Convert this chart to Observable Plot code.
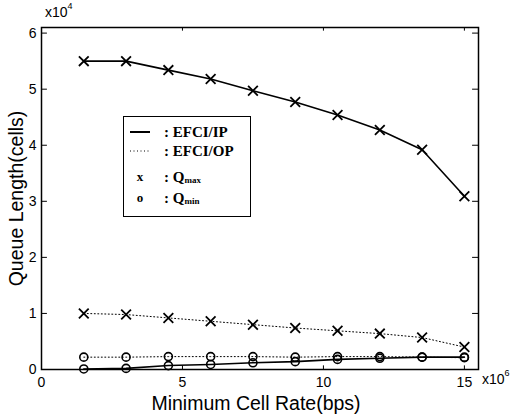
<!DOCTYPE html>
<html>
<head>
<meta charset="utf-8">
<script src="https://cdn.jsdelivr.net/npm/d3@7"></script>
<script src="https://cdn.jsdelivr.net/npm/@observablehq/plot@0.6"></script>
<style>
  body { margin: 0; background: #fff; }
  #wrap { position: relative; width: 510px; height: 417px; font-family: "Liberation Sans", Arial, sans-serif; }
  .exp { position: absolute; font-size: 14px; color: #000; }
  .exp sup { font-size: 9px; position: relative; top: -2px; }
  #legend { position: absolute; left: 123px; top: 116px; width: 126px; height: 99px; border: 1.5px solid #000; background: #fff;
            font-family: "Liberation Serif", "Times New Roman", serif; font-weight: bold; font-size: 15px; }
  .row { position: absolute; left: 0; height: 18px; width: 126px; }
  .row .sym { position: absolute; left: 6px; width: 22px; top: 0; height: 18px; }
  .row .lab { position: absolute; left: 40px; top: 0; line-height: 18px; }
  .row .lab sub { font-size: 9px; vertical-align: -1px; }
</style>
</head>
<body>
<div id="wrap"></div>
<script>
// Minimum cell rate (bps)
const mcr = [1.5e6, 3e6, 4.5e6, 6e6, 7.5e6, 9e6, 10.5e6, 12e6, 13.5e6, 15e6];
// Queue length (cells)
const ipMax = [55000, 55000, 53400, 51800, 49700, 47700, 45400, 42700, 39200, 30900];
const opMax = [10000, 9800, 9200, 8600, 8000, 7400, 6900, 6400, 5700, 4000];
const ipMin = [100, 200, 700, 900, 1200, 1400, 1800, 2000, 2200, 2200];
const opMin = [2200, 2200, 2300, 2300, 2300, 2200, 2300, 2300, 2200, 2100];
const xTicks = [0, 5e6, 10e6, 15e6];
const xTickLabels = ["0", "5", "10", "15"];
const yTicks = [0, 10000, 20000, 30000, 40000, 50000, 60000];
const yTickLabels = ["0", "1", "2", "3", "4", "5", "6"];
const xTitle = "Minimum Cell Rate(bps)";
const yTitle = "Queue Length(cells)";

const rows = (ys) => mcr.map((x, i) => ({x, y: ys[i]}));
const X0 = 0, X1 = 15.5e6, Y0 = 0, Y1 = 61000;
const tkX = 650, tkY = 210000; // inward tick lengths in data units

const plot = Plot.plot({
  width: 510, height: 417,
  marginLeft: 41, marginRight: 32, marginTop: 27, marginBottom: 48,
  style: {fontFamily: "Liberation Sans, Arial, sans-serif", fontSize: "14px", color: "#000", background: "white"},
  x: {domain: [X0, X1], axis: null},
  y: {domain: [Y0, Y1], axis: null},
  marks: [
    // inward ticks, all four sides
    Plot.ruleX(xTicks, {x: d => d, y1: Y0, y2: Y0 + tkX, stroke: "#000", strokeWidth: 1}),
    Plot.ruleX(xTicks, {x: d => d, y1: Y1 - tkX, y2: Y1, stroke: "#000", strokeWidth: 1}),
    Plot.ruleY(yTicks, {y: d => d, x1: X0, x2: X0 + tkY, stroke: "#000", strokeWidth: 1}),
    Plot.ruleY(yTicks, {y: d => d, x1: X1 - tkY, x2: X1, stroke: "#000", strokeWidth: 1}),
    // tick labels
    Plot.text(xTicks, {x: d => d, y: Y0, text: (d, i) => xTickLabels[i], dy: 13, lineAnchor: "middle", textAnchor: "middle", fontSize: 14}),
    Plot.text(yTicks, {x: X0, y: d => d, text: (d, i) => yTickLabels[i], dx: -5, textAnchor: "end", fontSize: 14}),
    // axis titles
    Plot.text([xTitle], {frameAnchor: "bottom", lineAnchor: "middle", textAnchor: "middle", dy: 34, dx: -4, fontSize: 19.5}),
    Plot.text([yTitle], {frameAnchor: "left", lineAnchor: "middle", textAnchor: "middle", rotate: -90, dx: -25, fontSize: 19.5}),
    // series
    Plot.line(rows(ipMax), {x: "x", y: "y", stroke: "#000", strokeWidth: 1.6}),
    Plot.line(rows(ipMin), {x: "x", y: "y", stroke: "#000", strokeWidth: 1.6}),
    Plot.line(rows(opMax), {x: "x", y: "y", stroke: "#000", strokeWidth: 1, strokeDasharray: "1,2.5"}),
    Plot.line(rows(opMin), {x: "x", y: "y", stroke: "#000", strokeWidth: 1, strokeDasharray: "1,2.5"}),
    Plot.dot(rows(ipMax), {x: "x", y: "y", symbol: "times", r: 4.5, stroke: "#000", strokeWidth: 1.8}),
    Plot.dot(rows(opMax), {x: "x", y: "y", symbol: "times", r: 4.5, stroke: "#000", strokeWidth: 1.8}),
    Plot.dot(rows(ipMin), {x: "x", y: "y", symbol: "circle", r: 4, stroke: "#000", fill: "none", strokeWidth: 1.6}),
    Plot.dot(rows(opMin), {x: "x", y: "y", symbol: "circle", r: 4, stroke: "#000", fill: "none", strokeWidth: 1.6}),
    Plot.frame({stroke: "#000", strokeWidth: 1.5})
  ]
});

const wrap = document.getElementById("wrap");
wrap.appendChild(plot);

const e4 = document.createElement("div");
e4.className = "exp"; e4.style.left = "45px"; e4.style.top = "3px";
e4.innerHTML = "x10<sup>4</sup>";
wrap.appendChild(e4);
const e6 = document.createElement("div");
e6.className = "exp"; e6.style.left = "482px"; e6.style.top = "370px";
e6.innerHTML = "x10<sup>6</sup>";
wrap.appendChild(e6);

const legendItems = [
  {sym: '<svg width="22" height="18"><line x1="0" y1="9" x2="20" y2="9" stroke="#000" stroke-width="2"/></svg>', lab: ": EFCI/IP", top: 6},
  {sym: '<svg width="22" height="18"><line x1="0" y1="9" x2="20" y2="9" stroke="#000" stroke-width="1" stroke-dasharray="1,2.5"/></svg>', lab: ": EFCI/OP", top: 25},
  {sym: '<div style="text-align:center;width:20px;line-height:18px;font-size:13px">x</div>', lab: ": Q<sub>max</sub>", top: 51},
  {sym: '<div style="text-align:center;width:20px;line-height:18px;font-size:13px">o</div>', lab: ": Q<sub>min</sub>", top: 72}
];
const lg = document.createElement("div");
lg.id = "legend";
for (const it of legendItems) {
  const r = document.createElement("div");
  r.className = "row"; r.style.top = it.top + "px";
  r.innerHTML = '<div class="sym">' + it.sym + '</div><div class="lab">' + it.lab + '</div>';
  lg.appendChild(r);
}
wrap.appendChild(lg);
</script>
</body>
</html>
